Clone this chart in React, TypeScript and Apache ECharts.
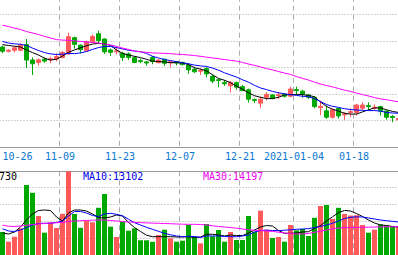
import React, { useEffect, useRef } from "react";
import * as echarts from "echarts";

const dates = [
  "2020-10-26", "2020-10-27", "2020-10-28", "2020-10-29", "2020-10-30",
  "2020-11-02", "2020-11-03", "2020-11-04", "2020-11-05", "2020-11-06",
  "2020-11-09", "2020-11-10", "2020-11-11", "2020-11-12", "2020-11-13",
  "2020-11-16", "2020-11-17", "2020-11-18", "2020-11-19", "2020-11-20",
  "2020-11-23", "2020-11-24", "2020-11-25", "2020-11-26", "2020-11-27",
  "2020-11-30", "2020-12-01", "2020-12-02", "2020-12-03", "2020-12-04",
  "2020-12-07", "2020-12-08", "2020-12-09", "2020-12-10", "2020-12-11",
  "2020-12-14", "2020-12-15", "2020-12-16", "2020-12-17", "2020-12-18",
  "2020-12-21", "2020-12-22", "2020-12-23", "2020-12-24", "2020-12-25",
  "2020-12-28", "2020-12-29", "2020-12-30", "2020-12-31", "2021-01-04",
  "2021-01-05", "2021-01-06", "2021-01-07", "2021-01-08", "2021-01-11",
  "2021-01-12", "2021-01-13", "2021-01-14", "2021-01-15", "2021-01-18",
  "2021-01-19", "2021-01-20", "2021-01-21", "2021-01-22", "2021-01-25",
  "2021-01-26", "2021-01-27",
];

const tickIndex = [0, 10, 20, 30, 40, 49, 59];
const tickText = ["10-26", "11-09", "11-23", "12-07", "12-21", "2021-01-04", "01-18"];

const openP = [
  13.77, 13.61, 13.65, 13.65, 13.86, 13.28, 13.19, 13.31, 13.29, 13.32,
  13.38, 13.51, 14.12, 13.84, 13.63, 13.97, 14.27, 14.07, 13.66, 13.59,
  13.53, 13.51, 13.37, 13.26, 13.21, 13.38, 13.18, 13.31, 13.18, 13.22,
  13.19, 13.09, 12.93, 12.86, 12.96, 12.66, 12.54, 12.44, 12.31, 12.43,
  12.28, 12.16, 11.79, 11.66, 11.88, 11.97, 11.94, 11.99, 11.92, 12.17,
  12.11, 11.97, 11.88, 11.49, 11.37, 11.13, 11.46, 11.22, 11.31, 11.31,
  11.47, 11.57, 11.47, 11.53, 11.36, 11.16, 11.03,
];
const closeP = [
  13.61, 13.65, 13.74, 13.84, 13.28, 13.14, 13.29, 13.24, 13.33, 13.41,
  13.56, 14.16, 13.87, 13.67, 13.97, 14.17, 14.01, 13.59, 13.57, 13.63,
  13.38, 13.38, 13.19, 13.22, 13.17, 13.22, 13.28, 13.16, 13.22, 13.17,
  13.11, 12.91, 12.84, 12.89, 12.76, 12.49, 12.51, 12.39, 12.44, 12.26,
  12.13, 11.81, 11.76, 11.81, 11.99, 11.84, 11.98, 11.92, 12.19, 12.13,
  11.99, 11.88, 11.53, 11.54, 11.13, 11.41, 11.18, 11.26, 11.34, 11.59,
  11.59, 11.53, 11.51, 11.36, 11.13, 11.12, 11.08,
];
const lowP = [
  13.54, 13.57, 13.56, 13.61, 12.98, 12.72, 13.07, 13.18, 13.16, 13.24,
  13.34, 13.48, 13.71, 13.53, 13.59, 13.92, 13.91, 13.51, 13.44, 13.49,
  13.24, 13.29, 13.16, 13.16, 13.07, 13.12, 13.16, 13.06, 13.01, 13.08,
  13.08, 12.76, 12.79, 12.72, 12.63, 12.41, 12.26, 12.31, 12.06, 12.16,
  12.12, 11.68, 11.66, 11.47, 11.76, 11.81, 11.81, 11.87, 11.88, 11.97,
  11.86, 11.82, 11.47, 11.21, 11.07, 11.08, 11.08, 11.03, 11.13, 11.19,
  11.39, 11.41, 11.41, 11.19, 11.04, 10.94, 10.99,
];
const highP = [
  13.82, 13.69, 13.79, 13.91, 14.07, 13.38, 13.34, 13.38, 13.41, 13.53,
  13.63, 14.31, 14.16, 13.87, 14.01, 14.24, 14.38, 14.09, 13.71, 13.78,
  13.59, 13.57, 13.43, 13.33, 13.24, 13.43, 13.32, 13.33, 13.24, 13.24,
  13.22, 13.17, 13.02, 12.97, 13.03, 12.72, 12.58, 12.53, 12.49, 12.47,
  12.34, 12.21, 11.84, 11.91, 12.07, 11.99, 12.08, 12.03, 12.28, 12.28,
  12.16, 12.01, 11.93, 11.76, 11.57, 11.46, 11.48, 11.32, 11.47, 11.63,
  11.69, 11.69, 11.62, 11.56, 11.38, 11.22, 11.13,
];

const ma5 = [
  13.86, 13.83, 13.80, 13.77, 13.66, 13.56, 13.47, 13.35, 13.28, 13.31,
  13.43, 13.57, 13.66, 13.74, 13.82, 13.88, 13.91, 13.89, 13.83, 13.66,
  13.53, 13.47, 13.42, 13.37, 13.31, 13.24, 13.22, 13.21, 13.18, 13.18,
  13.17, 13.11, 12.99, 12.94, 12.87, 12.73, 12.59, 12.52, 12.43, 12.30,
  12.18, 12.05, 11.94, 11.88, 11.83, 11.83, 11.88, 11.97, 11.98, 11.99,
  11.98, 11.95, 11.90, 11.70, 11.54, 11.43, 11.36, 11.28, 11.25, 11.25,
  11.33, 11.41, 11.48, 11.48, 11.41, 11.35, 11.31,
];
const ma10 = [
  13.98, 13.92, 13.89, 13.87, 13.83, 13.73, 13.64, 13.56, 13.51, 13.49,
  13.50, 13.53, 13.52, 13.55, 13.60, 13.68, 13.75, 13.79, 13.79, 13.75,
  13.70, 13.65, 13.62, 13.59, 13.53, 13.42, 13.36, 13.30, 13.26, 13.22,
  13.18, 13.14, 13.09, 13.06, 13.04, 12.98, 12.90, 12.80, 12.72, 12.64,
  12.54, 12.45, 12.33, 12.23, 12.17, 12.10, 12.05, 12.01, 11.98, 11.95,
  11.92, 11.90, 11.83, 11.72, 11.61, 11.54, 11.50, 11.45, 11.42, 11.40,
  11.39, 11.38, 11.38, 11.36, 11.31, 11.29, 11.28,
];
const ma30 = [
  14.59, 14.54, 14.48, 14.43, 14.35, 14.30, 14.24, 14.17, 14.11, 14.05,
  14.03, 14.02, 14.00, 13.98, 13.96, 13.94, 13.92, 13.88, 13.85, 13.79,
  13.73, 13.68, 13.62, 13.59, 13.57, 13.55, 13.54, 13.53, 13.52, 13.50,
  13.49, 13.47, 13.45, 13.42, 13.39, 13.36, 13.33, 13.30, 13.27, 13.24,
  13.19, 13.13, 13.08, 13.02, 12.96, 12.91, 12.85, 12.79, 12.74, 12.66,
  12.59, 12.53, 12.45, 12.38, 12.32, 12.27, 12.21, 12.15, 12.10, 12.04,
  11.98, 11.93, 11.87, 11.82, 11.79, 11.75, 11.71,
];

const volume = [
  9590, 5600, 7660, 11120, 28950, 25740, 16180, 9310, 13510, 11240,
  17090, 36000, 17010, 11320, 14120, 13590, 19560, 25240, 11780, 7540,
  13840, 10130, 11120, 6180, 6180, 5560, 8360, 10540, 7000, 5600,
  6010, 12480, 7660, 4940, 12890, 7820, 10420, 5600, 9590, 6300,
  6300, 16180, 9720, 18370, 10540, 7120, 7540, 5600, 12480, 10290,
  10830, 7950, 15440, 20300, 20710, 15030, 19560, 17010, 16390, 16510,
  12480, 9310, 10540, 12760, 12270, 12060, 12060,
];
const volMa5 = [
  9180, 8770, 9590, 11650, 14540, 17010, 18450, 18650, 18450, 15770,
  14120, 17420, 18650, 18650, 18240, 17010, 15560, 15360, 15770, 16590,
  16180, 13510, 11450, 9800, 8280, 7660, 7660, 7660, 7660, 7540,
  7540, 7620, 7330, 7540, 8650, 8650, 8360, 7950, 8360, 8150,
  8150, 9180, 10420, 11650, 12270, 12060, 10210, 9060, 9060, 9180,
  9590, 9720, 11040, 12270, 14120, 15850, 17580, 18450, 18240, 17210,
  15980, 14540, 13300, 12480, 12270, 11860, 11650,
];
const volMa10 = [
  10910, 10010, 9800, 10420, 11450, 12480, 13090, 13180, 13180, 13510,
  14120, 16180, 18040, 18040, 17420, 16390, 15980, 17010, 17290, 16880,
  16310, 14820, 13420, 12480, 11530, 10710, 9880, 9060, 8440, 7950,
  7660, 7820, 7740, 7330, 7950, 7950, 7950, 7740, 7660, 7660,
  7950, 8360, 9590, 10210, 10340, 10210, 10130, 10340, 10500, 10710,
  10830, 10990, 11450, 11860, 12480, 13180, 14120, 15150, 15650, 15850,
  15770, 15360, 14950, 14540, 14250, 14000, 13710,
];
const volMa30 = [
  12390, 11980, 11860, 12060, 12390, 12640, 12890, 13090, 13300, 13420,
  13510, 13920, 14120, 14250, 14370, 14450, 14540, 14540, 14330, 14120,
  13920, 13710, 13590, 13460, 13340, 13260, 13180, 13090, 13010, 12890,
  12810, 12760, 12760, 12680, 12480, 12150, 11860, 11650, 11410, 11160,
  10830, 10500, 10290, 10170, 10010, 9840, 9510, 9180, 8940, 8770,
  8770, 8980, 9470, 9920, 10420, 10910, 11240, 11360, 11450, 11490,
  11530, 11570, 11650, 11690, 11740, 11780, 11780,
];

const legendTexts = ["730", "MA10:13102", "MA30:14197"];

const UP = "#ff5a5a";
const DOWN = "#00a800";
const MONO = "DejaVu Sans Mono";

// The chart canvas is larger than the visible 398x255 window and shifted,
// so the visible window shows a cropped part of the full chart.
const OX = 10;
const OY = 20;

export default function App() {
  const ref = useRef<HTMLDivElement>(null);

  useEffect(() => {
    const chart = echarts.init(ref.current!, null, { renderer: "svg" });

    const candles = openP.map((o, i) => [o, closeP[i], lowP[i], highP[i]]);
    const volData = volume.map((v, i) => ({
      value: v,
      itemStyle: { color: closeP[i] >= openP[i] ? UP : DOWN },
    }));

    const splitX = {
      show: true,
      interval: (i: number) => tickIndex.includes(i),
      lineStyle: { color: "#ababab", type: [5, 4], width: 1 },
    };
    const splitY = {
      show: true,
      lineStyle: { color: "#a8a8a8", type: [1, 2], width: 1 },
    };
    const lineSeries = (data: number[], color: string, axis: number) => ({
      type: "line",
      data,
      xAxisIndex: axis,
      yAxisIndex: axis,
      symbol: "none",
      showSymbol: false,
      lineStyle: { color, width: 1 },
      silent: true,
    });

    chart.setOption({
      animation: false,
      backgroundColor: "#ffffff",
      grid: [
        { left: OX - 0.5, top: OY - 12.3, width: 402, height: 159.6 },
        { left: OX - 0.5, top: OY + 171.3, width: 402, height: 84 },
      ],
      xAxis: [
        {
          type: "category",
          gridIndex: 0,
          data: dates,
          boundaryGap: true,
          axisLine: { show: true, onZero: false, lineStyle: { color: "#999999" } },
          axisTick: { show: false },
          axisLabel: {
            show: true,
            interval: (i: number) => tickIndex.includes(i),
            formatter: (_v: string, i: number) => tickText[tickIndex.indexOf(i)] ?? "",
            color: "#0a78d2",
            fontFamily: MONO,
            fontSize: 10,
            margin: 4,
            padding: [0, 5, 0, 0],
            alignMinLabel: "left",
          },
          splitLine: splitX,
        },
        {
          type: "category",
          gridIndex: 1,
          data: dates,
          boundaryGap: true,
          position: "top",
          axisLine: { show: true, onZero: false, lineStyle: { color: "#999999" } },
          axisTick: { show: false },
          axisLabel: { show: false },
          splitLine: splitX,
        },
      ],
      yAxis: [
        {
          type: "value",
          gridIndex: 0,
          min: 10,
          max: 16,
          interval: 1,
          axisLine: { show: false },
          axisTick: { show: false },
          axisLabel: { show: false },
          splitLine: splitY,
        },
        {
          type: "value",
          gridIndex: 1,
          min: 0,
          max: 34588,
          interval: 7000,
          axisLine: { show: false },
          axisTick: { show: false },
          axisLabel: { show: false },
          splitLine: splitY,
        },
      ],
      series: [
        {
          type: "candlestick",
          xAxisIndex: 0,
          yAxisIndex: 0,
          data: candles,
          barWidth: 4,
          itemStyle: {
            color: UP,
            color0: DOWN,
            borderColor: UP,
            borderColor0: DOWN,
            borderWidth: 1,
          },
          silent: true,
        },
        lineSeries(ma5, "#000000", 0),
        lineSeries(ma10, "#0000ff", 0),
        lineSeries(ma30, "#ff00ff", 0),
        {
          type: "bar",
          xAxisIndex: 1,
          yAxisIndex: 1,
          data: volData,
          barWidth: 5,
          silent: true,
        },
        lineSeries(volMa5, "#000000", 1),
        lineSeries(volMa10, "#0000ff", 1),
        lineSeries(volMa30, "#ff00ff", 1),
      ],
      graphic: [
        {
          type: "text",
          x: OX - 1,
          y: OY + 176,
          style: { text: legendTexts[0], fill: "#000000", fontFamily: MONO, fontSize: 10, verticalAlign: "middle" },
        },
        {
          type: "text",
          x: OX + 83,
          y: OY + 176,
          style: { text: legendTexts[1], fill: "#0000ee", fontFamily: MONO, fontSize: 10, verticalAlign: "middle" },
        },
        {
          type: "text",
          x: OX + 203,
          y: OY + 176,
          style: { text: legendTexts[2], fill: "#ee00ee", fontFamily: MONO, fontSize: 10, verticalAlign: "middle" },
        },
      ],
    });

    return () => chart.dispose();
  }, []);

  return (
    <div
      style={{
        position: "fixed",
        left: 0,
        top: 0,
        width: 398,
        height: 255,
        overflow: "hidden",
        background: "#fff",
      }}
    >
      <div
        ref={ref}
        style={{ position: "absolute", left: -OX, top: -OY, width: 398 + OX + 20, height: 255 + OY + 20 }}
      />
    </div>
  );
}
